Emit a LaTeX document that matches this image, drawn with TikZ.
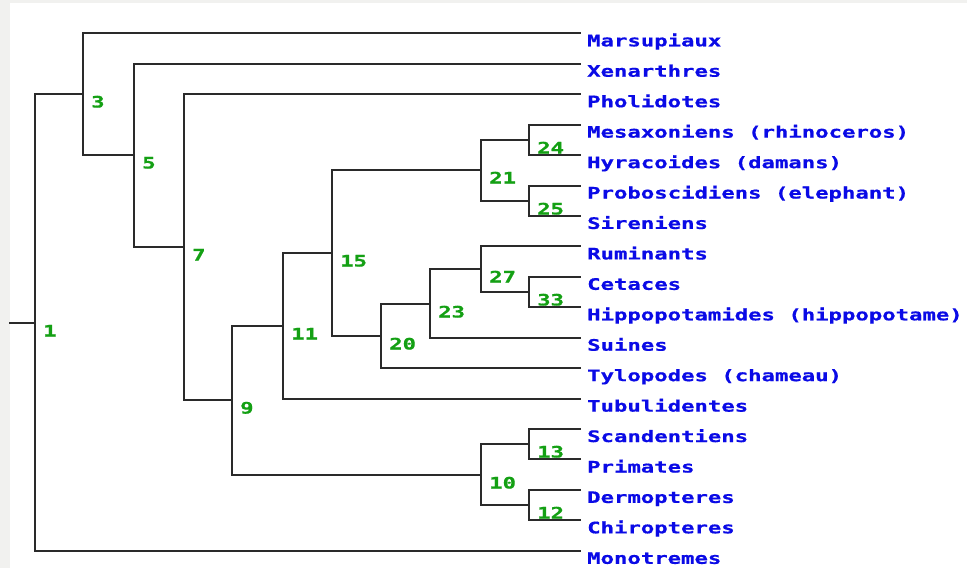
\documentclass[tikz,border=0pt]{standalone}
\usepackage{fontspec}
\newfontfamily\lf{DejaVu Sans Mono}[FakeStretch=1.41,UprightFont=*,BoldFont=* Bold,BoldFeatures={FakeBold=0.7}]
\definecolor{leafblue}{HTML}{0A0AE6}
\definecolor{numgreen}{HTML}{14A014}
\definecolor{branch}{HTML}{2A2A2A}
\definecolor{bggray}{HTML}{F1F1EF}
\begin{document}
\begin{tikzpicture}[x=1pt,y=-1pt,
  br/.style={draw=branch,line width=2pt,line cap=rect},
  leaf/.style={anchor=base west,inner sep=0pt,text=leafblue,font=\lf\bfseries\fontsize{15.8}{16}\selectfont},
  num/.style={anchor=base west,inner sep=0pt,text=numgreen,font=\lf\bfseries\fontsize{15.8}{16}\selectfont}]
\useasboundingbox (0,0) rectangle (967,568);
\fill[bggray] (0,0) rectangle (967,568);
\fill[white] (10,3) rectangle (967,568);
% leaf tips
\foreach \i/\yy in {0/33,1/64,2/94,3/125,4/155,5/186,6/216,7/246,8/277,9/307,10/338,11/368,12/399,13/429,14/459,15/490,16/520,17/551}
  \coordinate (e\i) at (580,\yy);
% leaf labels
\node[leaf] (t0) at (587,46.3) {Marsupiaux};
\node[leaf] (t1) at (587,76.7) {Xenarthres};
\node[leaf] (t2) at (587,107.2) {Pholidotes};
\node[leaf] (t3) at (587,137.6) {Mesaxoniens (rhinoceros)};
\node[leaf] (t4) at (587,168.1) {Hyracoides (damans)};
\node[leaf] (t5) at (587,198.5) {Proboscidiens (elephant)};
\node[leaf] (t6) at (587,228.9) {Sireniens};
\node[leaf] (t7) at (587,259.4) {Ruminants};
\node[leaf] (t8) at (587,289.8) {Cetaces};
\node[leaf] (t9) at (587,320.3) {Hippopotamides (hippopotame)};
\node[leaf] (t10) at (587,350.7) {Suines};
\node[leaf] (t11) at (587,381.1) {Tylopodes (chameau)};
\node[leaf] (t12) at (587,411.6) {Tubulidentes};
\node[leaf] (t13) at (587,442.0) {Scandentiens};
\node[leaf] (t14) at (587,472.5) {Primates};
\node[leaf] (t15) at (587,502.9) {Dermopteres};
\node[leaf] (t16) at (587,533.3) {Chiropteres};
\node[leaf] (t17) at (587,563.8) {Monotremes};
% internal nodes
\coordinate (n24) at (529,140);
\coordinate (n25) at (529,201);
\coordinate (n21) at (481,170);
\coordinate (n33) at (529,292);
\coordinate (n27) at (481,269);
\coordinate (n23) at (430,304);
\coordinate (n20) at (381,336);
\coordinate (n15) at (332,253);
\coordinate (n11) at (283,326);
\coordinate (n13) at (529,444);
\coordinate (n12) at (529,505);
\coordinate (n10) at (481,475);
\coordinate (n9) at (232,400);
\coordinate (n7) at (184,247);
\coordinate (n5) at (134,155);
\coordinate (n3) at (83,94);
\coordinate (n1) at (35,323);
\coordinate (stub) at (10,323);
% branches
\draw[br] (e3) -| (n24) |- (e4);
\draw[br] (e5) -| (n25) |- (e6);
\draw[br] (n24) -| (n21) |- (n25);
\draw[br] (e8) -| (n33) |- (e9);
\draw[br] (e7) -| (n27) |- (n33);
\draw[br] (n27) -| (n23) |- (e10);
\draw[br] (n23) -| (n20) |- (e11);
\draw[br] (n21) -| (n15) |- (n20);
\draw[br] (n15) -| (n11) |- (e12);
\draw[br] (e13) -| (n13) |- (e14);
\draw[br] (e15) -| (n12) |- (e16);
\draw[br] (n13) -| (n10) |- (n12);
\draw[br] (n11) -| (n9) |- (n10);
\draw[br] (e2) -| (n7) |- (n9);
\draw[br] (e1) -| (n5) |- (n7);
\draw[br] (e0) -| (n3) |- (n5);
\draw[br] (n3) -| (n1) |- (e17);
\draw[br] (stub) -- (n1);
% node numbers
\foreach \n/\lab in {n1/1,n3/3,n5/5,n7/7,n9/9,n11/11,n15/15,n21/21,n24/24,n25/25,n27/27,n33/33,n23/23,n20/20,n10/10,n13/13,n12/12}
  \node[num] (l\n) at ([xshift=8pt,yshift=-13.5pt]\n) {\lab};
\end{tikzpicture}
\end{document}
